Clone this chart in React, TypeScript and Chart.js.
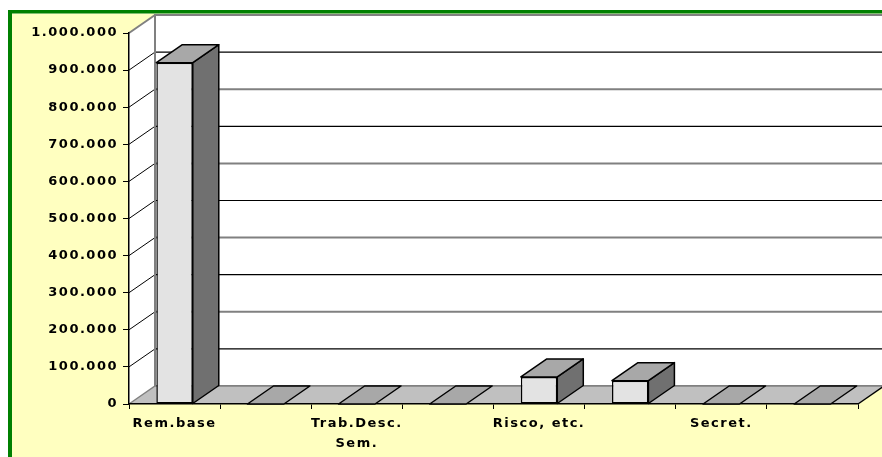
import { useEffect, useRef } from 'react';
import { Chart, registerables } from 'chart.js';

Chart.register(...registerables);

const categories: (string | string[])[] = ['Rem.base', '', ['Trab.Desc.', 'Sem.'], '', 'Risco, etc.', '', 'Secret.', ''];
const values = [920000, 0, 0, 0, 73000, 63000, 0, 0];
const yMin = 0;
const yMax = 1000000;
const yStep = 100000;

const W = 882;
const H = 457;
const DX = 26;
const DY = 18;
const YELLOW = '#ffffc0';
const FONT = { family: '"DejaVu Sans", Arial, sans-serif', size: 13, weight: 'bold' as const };

const fmt = (v: number) => String(Math.round(v)).replace(/\B(?=(\d{3})+(?!\d))/g, '.');

const threeD = {
  id: 'threeD',
  beforeDraw(chart: any) {
    const { ctx, chartArea: a, scales } = chart;
    const y = scales.y;
    ctx.save();
    ctx.fillStyle = '#ffffff';
    ctx.fillRect(0, 0, W, H);
    ctx.fillStyle = YELLOW;
    ctx.fillRect(12, 13.5, W, H);
    ctx.fillStyle = '#008000';
    ctx.fillRect(8, 10, 4, H);
    ctx.fillRect(8, 10, W, 3.5);

    const L = a.left, R = a.right, T = a.top, B = a.bottom;
    // back wall
    ctx.fillStyle = '#ffffff';
    ctx.fillRect(L + DX, T - DY, R - L + 10, B - T);
    // left wall
    ctx.beginPath();
    ctx.moveTo(L, T); ctx.lineTo(L + DX, T - DY); ctx.lineTo(L + DX, B - DY); ctx.lineTo(L, B); ctx.closePath();
    ctx.fill();

    // grid lines on back and side walls
    y.ticks.forEach((t: any, i: number) => {
      const yy = y.getPixelForValue(t.value);
      const even = Math.round(t.value / yStep) % 2 === 0;
      ctx.beginPath();
      ctx.moveTo(L + DX, yy - DY);
      ctx.lineTo(R + DX + 5, yy - DY);
      ctx.strokeStyle = even ? '#808080' : '#000000';
      ctx.lineWidth = even ? 2 : 1.2;
      ctx.stroke();
      if (i > 0 && t.value < yMax) {
        ctx.beginPath();
        ctx.moveTo(L, yy);
        ctx.lineTo(L + DX, yy - DY);
        ctx.strokeStyle = '#000000';
        ctx.lineWidth = 1;
        ctx.stroke();
      }
    });
    ctx.strokeStyle = '#808080';
    ctx.lineWidth = 2;
    ctx.beginPath();
    ctx.moveTo(L + DX, T - DY - 1); ctx.lineTo(L + DX, B - DY);
    ctx.stroke();
    ctx.beginPath();
    ctx.moveTo(L, T); ctx.lineTo(L + DX, T - DY);
    ctx.stroke();

    // floor
    ctx.fillStyle = '#c0c0c0';
    ctx.beginPath();
    ctx.moveTo(L, B); ctx.lineTo(R, B); ctx.lineTo(R + DX, B - DY); ctx.lineTo(L + DX, B - DY); ctx.closePath();
    ctx.fill();
    ctx.strokeStyle = '#808080';
    ctx.lineWidth = 1.5;
    ctx.beginPath();
    ctx.moveTo(L, B); ctx.lineTo(L + DX, B - DY); ctx.lineTo(R + DX + 5, B - DY);
    ctx.stroke();
    ctx.strokeStyle = '#000000';
    ctx.lineWidth = 1.5;
    ctx.beginPath();
    ctx.moveTo(R, B); ctx.lineTo(R + DX, B - DY);
    ctx.stroke();
    ctx.restore();
    (ctx as any).letterSpacing = '1.5px';
  },
  afterDatasetsDraw(chart: any) {
    const { ctx } = chart;
    const meta = chart.getDatasetMeta(0);
    ctx.save();
    (ctx as any).letterSpacing = '0px';
    ctx.strokeStyle = '#000000';
    ctx.lineWidth = 1.5;
    ctx.lineJoin = 'round';
    meta.data.forEach((el: any) => {
      const { x, y, base, width } = el.getProps(['x', 'y', 'base', 'width'], true);
      const x1 = x - width / 2;
      const x2 = x + width / 2;
      const top = Math.min(y, base);
      const bot = Math.max(y, base);
      if (bot - top > 0.5) {
        ctx.fillStyle = '#707070';
        ctx.beginPath();
        ctx.moveTo(x2, top); ctx.lineTo(x2 + DX, top - DY); ctx.lineTo(x2 + DX, bot - DY); ctx.lineTo(x2, bot); ctx.closePath();
        ctx.fill(); ctx.stroke();
      }
      ctx.fillStyle = '#a8a8a8';
      ctx.beginPath();
      ctx.moveTo(x1, top); ctx.lineTo(x2, top); ctx.lineTo(x2 + DX, top - DY); ctx.lineTo(x1 + DX, top - DY); ctx.closePath();
      ctx.fill(); ctx.stroke();
    });
    ctx.restore();
    (ctx as any).letterSpacing = '1.5px';
  },
  afterDraw(chart: any) {
    (chart.ctx as any).letterSpacing = '0px';
  },
};

export default function App() {
  const ref = useRef<HTMLCanvasElement | null>(null);
  useEffect(() => {
    if (!ref.current) return;
    const chart = new Chart(ref.current, {
      type: 'bar',
      data: {
        labels: categories as any,
        datasets: [
          {
            data: values,
            backgroundColor: '#e3e3e3',
            borderColor: '#000000',
            borderWidth: 1.5,
            borderSkipped: false,
            categoryPercentage: 1,
            barPercentage: 0.4,
          },
        ],
      },
      options: {
        responsive: false,
        animation: false,
        devicePixelRatio: 1,
        layout: { padding: { left: 10, top: 33, right: 24, bottom: 0 } },
        plugins: { legend: { display: false }, tooltip: { enabled: false } },
        scales: {
          x: {
            grid: { display: true, drawOnChartArea: false, drawTicks: true, tickLength: 5, color: '#000000', offset: true },
            border: { display: true, color: '#000000', width: 1.5 },
            ticks: { autoSkip: false, maxRotation: 0, minRotation: 0, color: '#000000', font: { ...FONT, lineHeight: 1.5 }, padding: 5 },
            afterFit: (s: any) => { s.height = 53; },
          },
          y: {
            min: yMin,
            max: yMax,
            grid: { drawOnChartArea: false, drawTicks: true, tickLength: 6, color: '#000000' },
            border: { display: true, color: '#000000', width: 1.5 },
            ticks: { stepSize: yStep, color: '#000000', font: FONT, padding: 5, callback: (v: any) => fmt(Number(v)) },
            afterFit: (s: any) => { s.width = 119; },
          },
        },
      },
      plugins: [threeD],
    });
    return () => chart.destroy();
  }, []);
  return (
    <div style={{ position: 'fixed', left: 0, top: 0, width: W, height: H }}>
      <canvas ref={ref} width={W} height={H} />
    </div>
  );
}
